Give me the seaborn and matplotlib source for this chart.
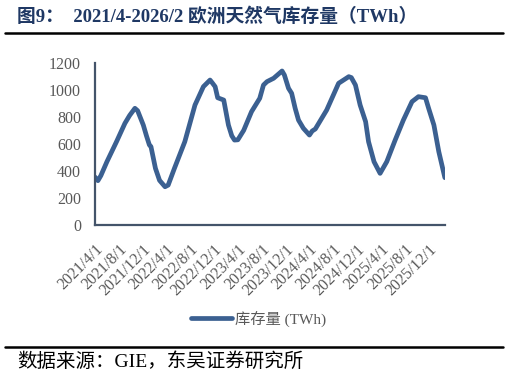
import pandas as pd
import matplotlib.pyplot as plt
import matplotlib.dates as mdates
from matplotlib.lines import Line2D
import seaborn as sns

# Storage values (TWh)
dates = [
    '2021-04-01', '2021-04-16', '2021-05-01', '2021-06-01', '2021-07-20', '2021-09-01',
    '2021-09-25', '2021-10-22', '2021-11-05', '2021-12-04', '2021-12-20', '2022-01-04',
    '2022-01-12', '2022-02-04', '2022-02-25', '2022-03-25', '2022-04-10', '2022-05-12',
    '2022-07-04', '2022-08-25', '2022-10-07', '2022-11-10', '2022-11-22', '2022-12-06',
    '2022-12-19', '2023-01-19', '2023-02-12', '2023-03-01', '2023-03-15', '2023-04-01',
    '2023-05-01', '2023-06-10', '2023-07-22', '2023-08-10', '2023-08-28', '2023-10-01',
    '2023-11-13', '2023-11-25', '2023-12-16', '2024-01-01', '2024-01-19', '2024-02-05',
    '2024-03-01', '2024-04-01', '2024-04-15', '2024-05-01', '2024-06-28', '2024-08-28',
    '2024-10-19', '2024-11-01', '2024-11-22', '2024-12-16', '2025-01-13', '2025-01-28',
    '2025-02-25', '2025-03-28', '2025-05-01', '2025-06-13', '2025-07-25', '2025-09-07',
    '2025-10-10', '2025-11-15', '2025-12-01', '2025-12-28', '2026-01-22', '2026-02-22',
]
storage = [
    355, 328, 365, 468, 616, 752,
    810, 863, 845, 739, 660, 592,
    580, 419, 330, 283, 295, 419,
    616, 887, 1023, 1072, 1050, 1023,
    941, 924, 739, 660, 628, 630,
    700, 838, 937, 1035, 1060, 1085,
    1139, 1109, 1011, 974, 863, 776,
    715, 665, 695, 710, 850, 1048,
    1097, 1090, 1035, 887, 764, 616,
    468, 382, 468, 628, 776, 912,
    949, 941, 863, 739, 542, 350,
]
tick_dates = ['2021-04-01', '2021-08-01', '2021-12-01', '2022-04-01', '2022-08-01',
              '2022-12-01', '2023-04-01', '2023-08-01', '2023-12-01', '2024-04-01',
              '2024-08-01', '2024-12-01', '2025-04-01', '2025-08-01', '2025-12-01']
tick_labels = ['2021/4/1', '2021/8/1', '2021/12/1', '2022/4/1', '2022/8/1',
               '2022/12/1', '2023/4/1', '2023/8/1', '2023/12/1', '2024/4/1',
               '2024/8/1', '2024/12/1', '2025/4/1', '2025/8/1', '2025/12/1']
y_ticks = [0, 200, 400, 600, 800, 1000, 1200]

df = pd.DataFrame({'date': pd.to_datetime(dates), 'value': storage})

sns.set_style('white')
plt.rcParams['font.family'] = ['Liberation Serif', 'Noto Sans CJK SC', 'DejaVu Sans']

line_color = '#3B6091'
axis_color = '#44546A'
text_gray = '#595959'

fig = plt.figure(figsize=(5.09, 3.81), dpi=100)
ax = fig.add_axes([0.1866, 0.4094, 0.6874, 0.426])

sns.lineplot(data=df, x='date', y='value', color=line_color, linewidth=3.4, ax=ax)

ax.set_xlim(df['date'].iloc[0], df['date'].iloc[-1])
ax.set_ylim(0, 1200)
ax.set_yticks(y_ticks)
ax.set_yticklabels([str(v) for v in y_ticks], fontsize=11.5, color=text_gray)
ax.set_xticks(mdates.date2num(pd.to_datetime(tick_dates)))
ax.set_xticklabels(tick_labels, rotation=45, ha='right', rotation_mode='anchor',
                   fontsize=11.5, color=text_gray)
ax.set_xlabel('')
ax.set_ylabel('')

for side in ['top', 'right']:
    ax.spines[side].set_visible(False)
for side in ['left', 'bottom']:
    ax.spines[side].set_color(axis_color)
    ax.spines[side].set_linewidth(1.6)
ax.tick_params(axis='both', direction='in', length=3.5, width=1.2, color=axis_color)
ax.tick_params(axis='y', pad=10)
ax.tick_params(axis='x', pad=12)
ax.grid(False)

# Legend below the chart
handle = Line2D([0], [0], color=line_color, linewidth=3.4)
fig.legend([handle], ['库存量 (TWh)'], loc='center', bbox_to_anchor=(0.508, 0.163),
           frameon=False, handlelength=2.7, handletextpad=0.2,
           prop={'size': 11}, labelcolor=text_gray)

# Title and rules
fig.text(0.033, 0.955, '图9：  2021/4-2026/2 欧洲天然气库存量（TWh）', fontsize=13.5,
         fontweight='bold', color='#1F3864', ha='left', va='center')
fig.add_artist(Line2D([0.01, 0.988], [0.913, 0.913], color='black', linewidth=1.8))
fig.add_artist(Line2D([0.01, 0.988], [0.089, 0.089], color='black', linewidth=1.8))
fig.text(0.033, 0.05, '数据来源：GIE，东吴证券研究所', fontsize=14, color='black',
         ha='left', va='center')

plt.savefig('out.png', dpi=100)
